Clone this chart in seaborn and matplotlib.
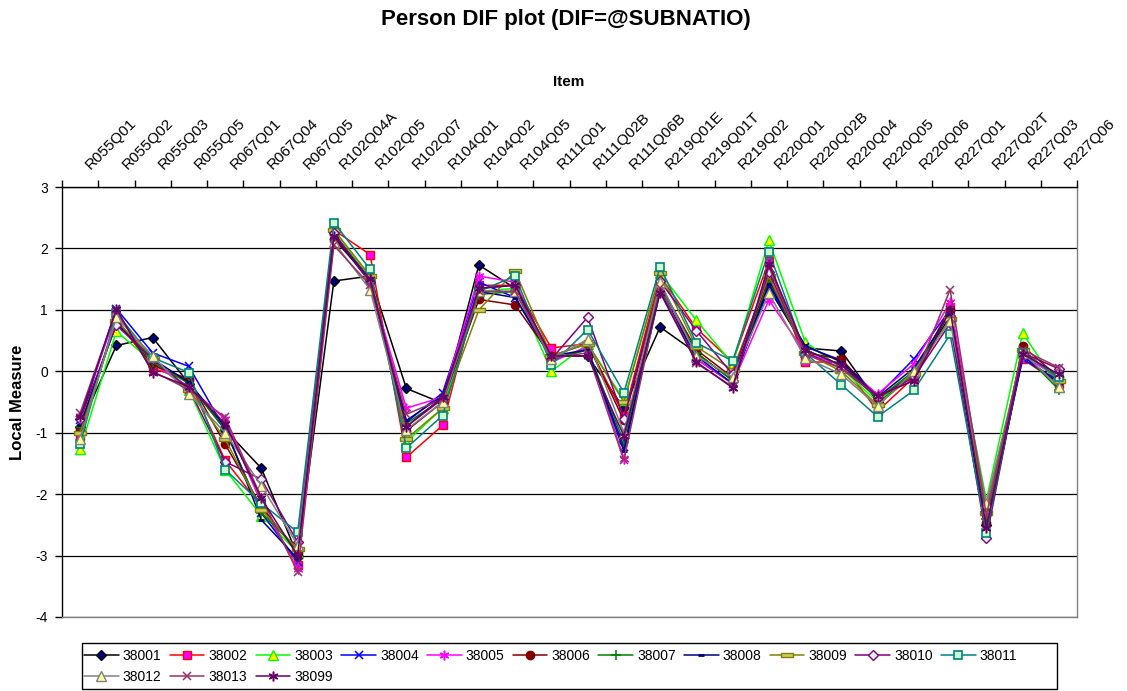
import numpy as np
import pandas as pd
import matplotlib
matplotlib.use("Agg")
import matplotlib.pyplot as plt
import seaborn as sns
from matplotlib.transforms import ScaledTranslation
from matplotlib.patches import Rectangle

# ---------------- data ----------------
items = ["R055Q01", "R055Q02", "R055Q03", "R055Q05", "R067Q01", "R067Q04", "R067Q05",
         "R102Q04A", "R102Q05", "R102Q07", "R104Q01", "R104Q02", "R104Q05", "R111Q01",
         "R111Q02B", "R111Q06B", "R219Q01E", "R219Q01T", "R219Q02", "R220Q01", "R220Q02B",
         "R220Q04", "R220Q05", "R220Q06", "R227Q01", "R227Q02T", "R227Q03", "R227Q06"]

series_names = ["38001", "38002", "38003", "38004", "38005", "38006", "38007",
                "38008", "38009", "38010", "38011", "38012", "38013", "38099"]

s38001 = [-0.90, 0.42, 0.55, -0.20, -0.95, -1.58, -3.00, 1.47, 1.55, -0.28, -0.52, 1.73, 1.35, 0.25,
          0.25, -0.60, 0.72, 0.30, -0.15, 1.35, 0.38, 0.33, -0.50, -0.05, 0.90, -2.50, 0.35, -0.15]
s38002 = [-1.05, 0.85, 0.05, -0.15, -1.45, -2.20, -3.15, 2.30, 1.90, -1.40, -0.88, 1.40, 1.40, 0.38,
          0.45, -0.72, 1.55, 0.70, 0.15, 1.80, 0.15, 0.15, -0.65, -0.10, 1.05, -2.28, 0.20, -0.20]
s38003 = [-1.27, 0.65, 0.15, -0.30, -1.60, -2.35, -2.95, 2.30, 1.55, -1.15, -0.60, 1.30, 1.35, 0.00,
          0.45, -0.47, 1.60, 0.83, 0.12, 2.13, 0.48, 0.05, -0.50, 0.00, 0.95, -2.10, 0.62, -0.25]
s38004 = [-0.80, 1.02, 0.30, 0.08, -0.95, -2.30, -3.10, 2.20, 1.50, -0.83, -0.35, 1.45, 1.20, 0.20,
          0.35, -1.23, 1.35, 0.20, -0.20, 1.38, 0.40, 0.18, -0.40, 0.20, 1.00, -2.55, 0.20, -0.15]
s38005 = [-0.72, 0.95, 0.12, -0.25, -0.78, -2.15, -3.22, 2.25, 1.45, -0.60, -0.42, 1.55, 1.45, 0.15,
          0.40, -1.42, 1.45, 0.20, -0.20, 1.16, 0.30, 0.10, -0.37, 0.12, 1.12, -2.22, 0.25, -0.10]
s38006 = [-0.95, 0.85, 0.10, -0.13, -1.19, -2.20, -2.95, 2.15, 1.50, -0.97, -0.50, 1.17, 1.08, 0.25,
          0.45, -0.80, 1.40, 0.35, -0.10, 1.51, 0.30, 0.20, -0.45, -0.05, 1.00, -2.47, 0.41, -0.10]
s38007 = [-0.90, 0.80, 0.15, -0.20, -0.95, -2.30, -2.90, 2.25, 1.50, -0.85, -0.45, 1.25, 1.30, 0.20,
          0.35, -1.15, 1.40, 0.30, -0.15, 1.45, 0.35, 0.10, -0.45, 0.00, 0.95, -2.40, 0.30, -0.30]
s38008 = [-0.88, 0.78, 0.20, -0.18, -0.90, -2.42, -3.05, 2.20, 1.45, -0.80, -0.40, 1.30, 1.20, 0.25,
          0.35, -1.30, 1.30, 0.25, -0.20, 1.42, 0.42, 0.15, -0.42, 0.05, 0.95, -2.60, 0.25, -0.20]
s38009 = [-1.00, 0.82, 0.22, -0.30, -1.10, -2.25, -2.90, 2.30, 1.55, -1.10, -0.60, 1.00, 1.63, 0.25,
          0.45, -0.50, 1.60, 0.40, 0.02, 1.55, 0.30, 0.00, -0.55, -0.05, 0.85, -2.30, 0.35, -0.15]
s38010 = [-0.78, 0.75, 0.20, -0.28, -1.47, -1.76, -2.78, 2.25, 1.45, -0.90, -0.45, 1.35, 1.40, 0.20,
          0.88, -0.77, 1.47, 0.66, -0.05, 1.62, 0.30, 0.05, -0.42, -0.10, 0.78, -2.72, 0.30, 0.04]
s38011 = [-1.18, 0.95, 0.22, -0.02, -1.60, -2.15, -2.62, 2.42, 1.66, -1.25, -0.72, 1.30, 1.55, 0.10,
          0.68, -0.35, 1.70, 0.46, 0.17, 1.95, 0.30, -0.22, -0.74, -0.31, 0.60, -2.63, 0.30, -0.10]
s38012 = [-1.10, 0.88, 0.25, -0.37, -1.00, -1.86, -2.83, 2.10, 1.33, -0.95, -0.50, 1.30, 1.30, 0.20,
          0.52, -1.00, 1.45, 0.25, -0.10, 1.27, 0.22, -0.05, -0.57, 0.00, 0.82, -2.15, 0.30, -0.25]
s38013 = [-0.68, 1.00, 0.00, -0.30, -0.75, -2.05, -3.27, 2.05, 1.40, -0.70, -0.45, 1.30, 1.30, 0.22,
          0.30, -1.45, 1.35, 0.13, -0.25, 1.70, 0.28, 0.05, -0.40, -0.15, 1.33, -2.35, 0.35, 0.06]
s38099 = [-0.75, 1.02, -0.02, -0.25, -0.85, -2.07, -3.00, 2.20, 1.50, -0.90, -0.42, 1.35, 1.40, 0.25,
          0.25, -1.05, 1.28, 0.15, -0.27, 1.75, 0.35, 0.10, -0.40, -0.15, 1.00, -2.55, 0.28, -0.05]

series_values = [s38001, s38002, s38003, s38004, s38005, s38006, s38007,
                 s38008, s38009, s38010, s38011, s38012, s38013, s38099]

y_ticks = [-4, -3, -2, -1, 0, 1, 2, 3]

# ---------------- styles ----------------
ASTER = (6, 2, 0)
BAR = [(-1, -0.3), (1, -0.3), (1, 0.3), (-1, 0.3), (-1, -0.3)]
styles = {
    "38001": dict(color="#000000", marker="D", mfc="#000080", mec="#000000", ms=5.5, mew=1.0),
    "38002": dict(color="#FF0000", marker="s", mfc="#FF00FF", mec="#FF0000", ms=6, mew=1.0),
    "38003": dict(color="#00FF00", marker="^", mfc="#FFFF00", mec="#00FF00", ms=6.5, mew=1.0),
    "38004": dict(color="#0000FF", marker="x", mfc="#0000FF", mec="#0000FF", ms=6, mew=1.1),
    "38005": dict(color="#FF00FF", marker=ASTER, mfc="#FF00FF", mec="#FF00FF", ms=7, mew=1.1),
    "38006": dict(color="#800000", marker="o", mfc="#800000", mec="#800000", ms=6, mew=1.0),
    "38007": dict(color="#008000", marker="+", mfc="#008000", mec="#008000", ms=7, mew=1.1),
    "38008": dict(color="#000080", marker="_", mfc="#000080", mec="#000080", ms=5, mew=2.0),
    "38009": dict(color="#808000", marker=BAR, mfc="#CCCC66", mec="#808000", ms=8, mew=1.0),
    "38010": dict(color="#800080", marker="D", mfc="#E0F0FF", mec="#800080", ms=5.5, mew=1.0),
    "38011": dict(color="#008080", marker="s", mfc="#CCFFCC", mec="#008080", ms=6, mew=1.2),
    "38012": dict(color="#808080", marker="^", mfc="#FFFF99", mec="#808080", ms=6.5, mew=1.0),
    "38013": dict(color="#993366", marker="x", mfc="#993366", mec="#993366", ms=6, mew=1.1),
    "38099": dict(color="#660066", marker=ASTER, mfc="#660066", mec="#660066", ms=7, mew=1.1),
}

# ---------------- figure ----------------
sns.set_style("white")
plt.rcParams["font.family"] = ["Liberation Sans", "DejaVu Sans"]
plt.rcParams["axes.unicode_minus"] = False
for key in ["text.color", "axes.labelcolor", "xtick.color", "ytick.color"]:
    plt.rcParams[key] = "black"

W, H = 1127, 691
fig = plt.figure(figsize=(W / 100, H / 100), dpi=100)
L, R, T, B = 62, 1077, 187, 617
ax = fig.add_axes([L / W, 1 - B / H, (R - L) / W, (B - T) / H])

for name, vals in zip(series_names, series_values):
    st = styles[name]
    df = pd.DataFrame({"item": items, "value": vals})
    sns.lineplot(data=df, x="item", y="value", ax=ax, sort=False, label=name,
                 color=st["color"], linewidth=1.1, marker=st["marker"],
                 markersize=st["ms"], markerfacecolor=st["mfc"],
                 markeredgecolor=st["mec"], markeredgewidth=st["mew"])

ax.get_legend().remove()

# axes limits / grid
ax.set_xlim(-0.5, len(items) - 0.5)
ax.set_ylim(-4, 3)
ax.set_yticks(y_ticks)
ax.set_yticklabels([str(v) for v in y_ticks])
ax.yaxis.grid(True, color="#000000", linewidth=0.9)
ax.xaxis.grid(False)

# x axis on top: major ticks at category boundaries, labels at centres
ax.set_xticks(np.arange(-0.5, len(items), 1.0))
ax.set_xticks(np.arange(len(items)), labels=items, minor=True)
ax.xaxis.set_ticks_position("top")
ax.tick_params(axis="x", which="major", top=True, bottom=False, length=5, width=1,
               direction="out", color="black", labeltop=False, labelbottom=False)
ax.tick_params(axis="x", which="minor", top=True, bottom=False, length=0,
               labeltop=True, labelbottom=False, pad=12, labelsize=11, labelcolor="black")
for lbl in ax.get_xticklabels(minor=True):
    lbl.set_rotation(45)
    lbl.set_rotation_mode("anchor")
    lbl.set_ha("left")
    lbl.set_va("baseline")
    lbl.set_transform(lbl.get_transform() + ScaledTranslation(11 / 100, 0, fig.dpi_scale_trans))

ax.tick_params(axis="y", left=True, length=5, width=1, direction="out", color="black",
               labelsize=10, pad=5, labelcolor="black")

for side in ["top", "left"]:
    ax.spines[side].set_color("black")
    ax.spines[side].set_linewidth(1.0)
for side in ["bottom", "right"]:
    ax.spines[side].set_color("#808080")
    ax.spines[side].set_linewidth(1.0)

# labels
ax.set_xlabel("Item", fontsize=11, fontweight="bold", color="black")
ax.xaxis.set_label_position("top")
ax.xaxis.set_label_coords((569 - L) / (R - L), (B - 82) / (B - T))
ax.xaxis.label.set_va("center")

ax.set_ylabel("Local Measure", fontsize=12, fontweight="bold", color="black")
ax.yaxis.set_label_coords((18 - L) / (R - L), (B - 402) / (B - T))
ax.yaxis.label.set_va("center")
ax.yaxis.label.set_ha("center")

fig.suptitle("Person DIF plot (DIF=@SUBNATIO)", x=566 / W, y=1 - 20 / H, va="center",
             fontsize=16, fontweight="bold", color="black")

# legend (row-wise order: 11 in the first row, 3 in the second)
handles, labels = ax.get_legend_handles_labels()
order = [0, 11, 1, 12, 2, 13, 3, 4, 5, 6, 7, 8, 9, 10]
leg = fig.legend([handles[i] for i in order], [labels[i] for i in order], ncol=11,
                 loc="upper left", bbox_to_anchor=(84 / W, 1 - 649 / H),
                 frameon=False, fontsize=10, handlelength=2.5, handletextpad=0.3,
                 columnspacing=0.58, labelspacing=0.5, borderpad=0, borderaxespad=0)
for t in leg.get_texts():
    t.set_color("black")

# legend frame (Excel-style box, wider than the entries)
fig.patches.append(Rectangle((82 / W, 1 - 689 / H), (1057 - 82) / W, (689 - 643) / H,
                             transform=fig.transFigure, fill=False, edgecolor="black",
                             linewidth=1.0))

fig.savefig("out.png", dpi=100)
